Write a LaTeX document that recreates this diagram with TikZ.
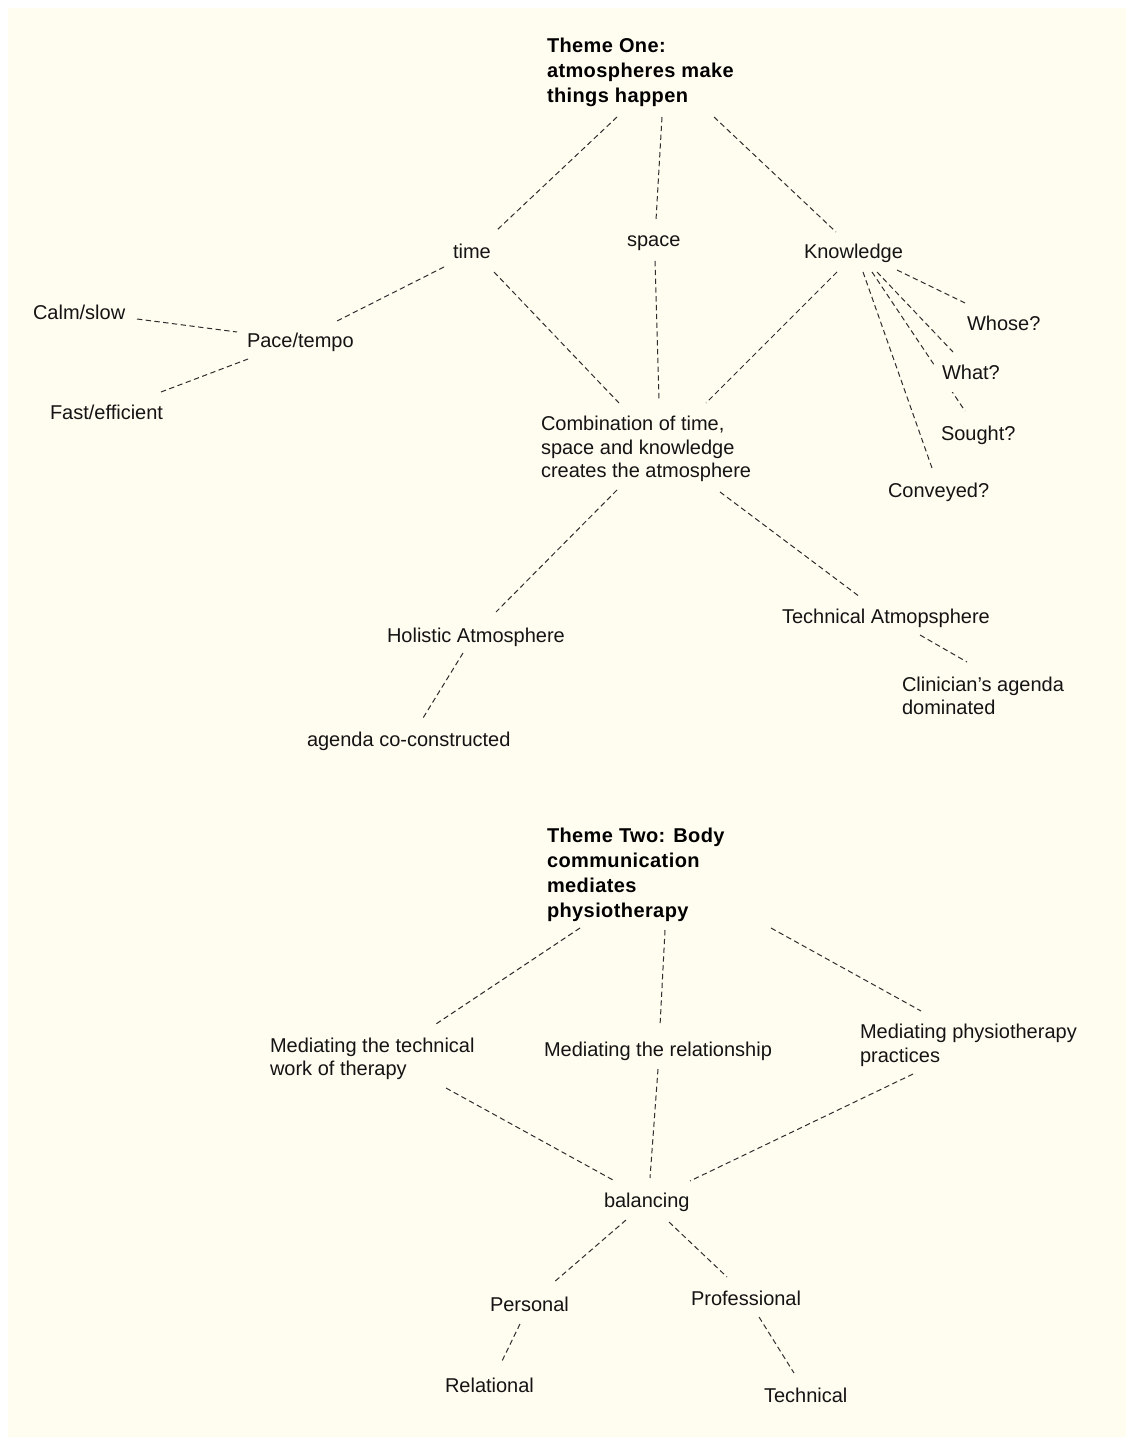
\documentclass[tikz,border=0pt]{standalone}
\usepackage{fontspec}
\setmainfont{Liberation Sans}
\newfontfamily\titlefont[LetterSpace=2.0]{Liberation Sans}
\usetikzlibrary{calc}
\definecolor{paper}{RGB}{255,252,240}
\definecolor{ink}{RGB}{20,20,20}
\definecolor{linkgrey}{RGB}{45,45,45}
\pgfdeclarelayer{paperlayer}
\pgfdeclarelayer{linklayer}
\pgfsetlayers{paperlayer,linklayer,main}
\tikzset{
  lbl/.style={inner sep=0pt, outer sep=0pt, text=ink, anchor=base west,
    font=\fontsize{15}{17.6}\selectfont},
  multi/.style={lbl, anchor=north west, align=left},
  theme/.style={inner sep=0pt, outer sep=0pt, anchor=north west, align=left,
    text=black, font=\titlefont\bfseries\fontsize{15}{18.75}\selectfont},
  link/.style={draw=linkgrey, line width=0.75pt, dash pattern=on 4pt off 2.6pt},
}
\begin{document}
\begin{tikzpicture}[x=0.75pt, y=-0.75pt]
\useasboundingbox (0,0) rectangle (1126,1437);
\begin{pgfonlayer}{paperlayer}
  \fill[paper] (8,8) rectangle (1126,1437);
\end{pgfonlayer}

% ---------- Theme one ----------
\node[theme] (t1) at (547,38.5) {Theme One:\\atmospheres make\\things happen};
\node[lbl] (time) at (453,259) {time};
\node[lbl] (space) at (627,247) {space};
\node[lbl] (know) at (804,259) {Knowledge};
\node[lbl] (calm) at (33,320) {Calm/slow};
\node[lbl] (pace) at (247,348) {Pace/tempo};
\node[lbl] (fast) at (50,419) {Fast/efficient};
\node[lbl] (whose) at (967,330) {Whose?};
\node[lbl, fill=paper, inner xsep=6pt, inner ysep=5.5pt, text depth=4.2pt] (what) at (934,379) {What?};
\node[lbl] (sought) at (941,440) {Sought?};
\node[lbl] (conv) at (888,497) {Conveyed?};
\node[multi] (comb) at (541,416.4) {Combination of time,\\space and knowledge\\creates the atmosphere};
\node[lbl] (hol) at (387,642) {Holistic Atmosphere};
\node[lbl] (tech) at (782,623) {Technical Atmopsphere};
\node[multi, font=\fontsize{15}{17.25}\selectfont] (clin) at (902,677) {Clinician’s agenda\\dominated};
\node[lbl] (agenda) at (307,746) {agenda co-constructed};

% ---------- Theme two ----------
\node[theme] (t2) at (547,828.4) {Theme Two: Body\\communication\\mediates\\physiotherapy};
\node[multi, font=\fontsize{15}{17.25}\selectfont] (mtech) at (270,1038.4) {Mediating the technical\\work of therapy};
\node[lbl] (mrel) at (544,1056) {Mediating the relationship};
\node[multi, font=\fontsize{15}{18}\selectfont] (mphys) at (860,1024.4) {Mediating physiotherapy\\practices};
\node[lbl] (bal) at (604,1207) {balancing};
\node[lbl] (pers) at (490,1311) {Personal};
\node[lbl] (prof) at (691,1305) {Professional};
\node[lbl] (rel) at (445,1392) {Relational};
\node[lbl] (techn) at (764,1402) {Technical};

\begin{pgfonlayer}{linklayer}
  % theme one
  \draw[link] ($(t1.north west)+(70,78.5)$) -- ($(time.base west)+(44,-29)$);
  \draw[link] ($(t1.north west)+(115,78.5)$) -- ($(space.base west)+(29,-27)$);
  \draw[link] ($(t1.north west)+(167,78.5)$) -- ($(know.base west)+(32,-27)$);
  \draw[link] ($(time.base west)+(-9,8)$) -- ($(pace.base west)+(90,-27)$);
  \draw[link] ($(calm.base west)+(104,-1)$) -- ($(pace.base west)+(-10,-16)$);
  \draw[link] ($(fast.base west)+(111,-27)$) -- ($(pace.base west)+(1,11)$);
  \draw[link] ($(time.base west)+(41,13)$) -- ($(comb.north west)+(78,-13.4)$);
  \draw[link] ($(space.base west)+(28,14)$) -- ($(comb.north west)+(118,-16.4)$);
  \draw[link] ($(know.base west)+(33,13)$) -- ($(comb.north west)+(165,-13.4)$);
  \draw[link] ($(know.base west)+(93,11)$) -- ($(whose.base west)+(-2,-27)$);
  \draw[link] ($(know.base west)+(73,13)$) -- ($(what.base west)+(19,-27)$);
  \draw[link] ($(know.base west)+(68,13)$) -- ($(sought.base west)+(24,-29)$);
  \draw[link] ($(know.base west)+(59,13)$) -- ($(conv.base west)+(44,-29)$);
  \draw[link] ($(comb.north west)+(76,73.6)$) -- ($(hol.base west)+(109,-30)$);
  \draw[link] ($(comb.north west)+(179,75.6)$) -- ($(tech.base west)+(78,-26)$);
  \draw[link] ($(hol.base west)+(76,11)$) -- ($(agenda.base west)+(116,-28)$);
  \draw[link] ($(tech.base west)+(138,12)$) -- ($(clin.north west)+(65,-15)$);
  % theme two
  \draw[link] ($(t2.north west)+(33,99.6)$) -- ($(mtech.north west)+(166,-14.4)$);
  \draw[link] ($(t2.north west)+(118,101.6)$) -- ($(mrel.base west)+(116,-30)$);
  \draw[link] ($(t2.north west)+(224,99.6)$) -- ($(mphys.north west)+(61,-13.4)$);
  \draw[link] ($(mtech.north west)+(176,49.6)$) -- ($(bal.base west)+(9,-27)$);
  \draw[link] ($(mrel.base west)+(114,13)$) -- ($(bal.base west)+(46,-29)$);
  \draw[link] ($(mphys.north west)+(53,49.6)$) -- ($(bal.base west)+(86,-26)$);
  \draw[link] ($(bal.base west)+(22,13)$) -- ($(pers.base west)+(63,-28)$);
  \draw[link] ($(bal.base west)+(65,15)$) -- ($(prof.base west)+(36,-28)$);
  \draw[link] ($(pers.base west)+(30,13)$) -- ($(rel.base west)+(56,-29)$);
  \draw[link] ($(prof.base west)+(68,12)$) -- ($(techn.base west)+(30,-29)$);
\end{pgfonlayer}
\end{tikzpicture}
\end{document}
